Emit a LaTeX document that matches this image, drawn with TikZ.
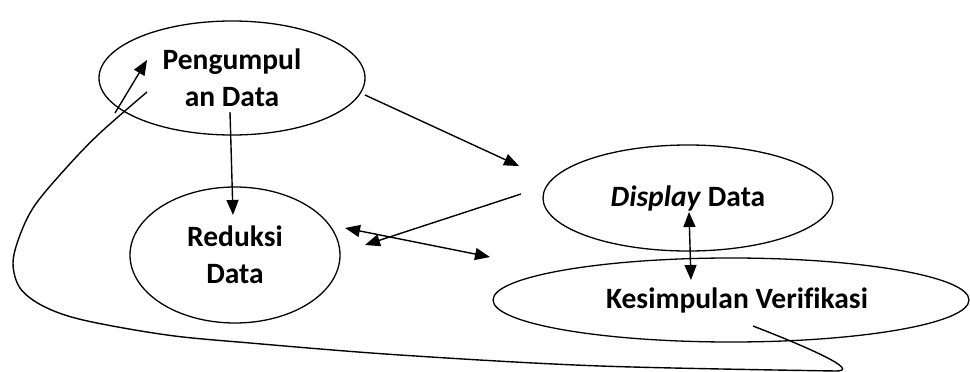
\documentclass[tikz,border=0pt]{standalone}
\usepackage{fontspec}
\setmainfont{Carlito}[Ligatures=CommonOff]
\usetikzlibrary{shapes.geometric,arrows.meta}
\begin{document}
\begin{tikzpicture}[x=1pt,y=-1pt,
  oval/.style={draw,ellipse,line width=1.3pt,inner sep=0pt,align=center,
    font=\fontsize{29.5}{37}\selectfont\bfseries},
  conn/.style={line width=1.4pt,-{Triangle[length=15pt,width=12pt]}},
  dconn/.style={line width=1.4pt,{Triangle[length=15pt,width=12pt]}-{Triangle[length=15pt,width=12pt]}},
  loopline/.style={line width=1.4pt}]
\useasboundingbox (0,0) rectangle (970,372);
\node[oval,minimum width=266pt,minimum height=114pt] (peng) at (232,78) {Pengumpul\\an Data};
\node[oval,minimum width=210pt,minimum height=136pt] (red) at (235,255) {Reduksi\\Data};
\node[oval,minimum width=290pt,minimum height=106pt] (disp) at (688,198) {\textit{Display} Data};
\node[oval,minimum width=476pt,minimum height=84pt] (kes) at (731,300) {\hspace*{12pt}Kesimpulan Verifikasi};
% connector end points
\coordinate (p1) at (230,112); \coordinate (r1) at (233,215);
\coordinate (p2) at (365,95);  \coordinate (d2) at (519,166);
\coordinate (d3) at (521,194); \coordinate (r3) at (365,245);
\coordinate (r4) at (345,228); \coordinate (k4) at (490,257);
\coordinate (d5) at (689,212); \coordinate (k5) at (691,280);
\coordinate (s1) at (115,113); \coordinate (s2) at (147,60);
\coordinate (l0) at (753,326); \coordinate (l1) at (836,371);
\coordinate (l4) at (147,92);
\draw[conn] (p1) -- (r1);
\draw[conn] (p2) -- (d2);
\draw[conn] (d3) -- (r3);
\draw[dconn] (r4) -- (k4);
\draw[dconn] (d5) -- (k5);
\draw[conn] (s1) -- (s2);
\draw[loopline] (l0) .. controls (815,350) and (860,371) .. (l1)
  -- plot[smooth,tension=0.55] coordinates {(l1) (600,366) (400,355) (250,343) (167,335) (83,320) (43,306) (20,288) (13,263) (20,235) (35,205) (67,167) (100,133) (l4)};
\end{tikzpicture}
\end{document}
